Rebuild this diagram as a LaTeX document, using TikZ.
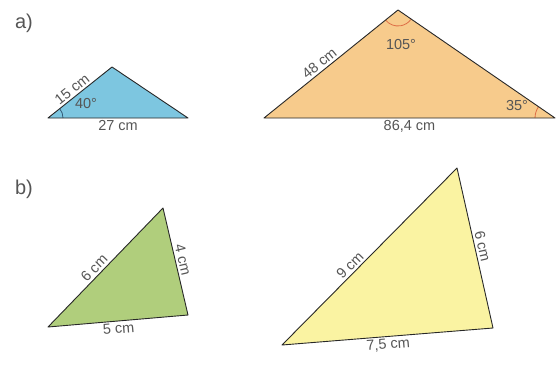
\documentclass[tikz,border=0pt]{standalone}
\usepackage{fontspec}
\setmainfont{Liberation Sans}
\usetikzlibrary{angles}
\definecolor{txtgray}{RGB}{85,85,85}
\definecolor{edgegray}{RGB}{40,40,40}
\definecolor{fillblue}{RGB}{125,198,224}
\definecolor{fillorange}{RGB}{247,203,140}
\definecolor{fillgreen}{RGB}{176,206,124}
\definecolor{fillyellow}{RGB}{250,243,162}
\definecolor{arcorange}{RGB}{222,110,70}
\definecolor{arcblue}{RGB}{45,80,110}
\tikzset{
  tri/.style={draw=edgegray, line width=0.9pt, line join=round},
  lbl/.style={text=txtgray, font=\fontsize{14.5}{17}\selectfont, inner sep=2.5pt},
  part/.style={text=txtgray, font=\fontsize{20}{24}\selectfont},
}
\begin{document}
\begin{tikzpicture}[x=1pt,y=-1pt]
\useasboundingbox (0,0) rectangle (556,367);

\node[part] (pa) at (24,23) {a)};
\node[part] (pb) at (24,189) {b)};

% a) small triangle
\coordinate (a1l) at (48,118);
\coordinate (a1t) at (112,67);
\coordinate (a1r) at (188,118);
\fill[fillblue] (a1l) -- (a1t) -- (a1r) -- cycle;
\pic[draw=arcblue, line width=0.7pt, angle radius=15pt] {angle = a1r--a1l--a1t};
\draw[tri] (a1l) -- (a1t) -- (a1r) -- cycle;
\path (a1l) -- node[lbl, sloped, above, pos=0.45] (a1s) {15 cm} (a1t);
\path (a1l) -- node[lbl, below] (a1b) {27 cm} (a1r);
\node[lbl] (a1w) at (86,104) {40°};

% a) large triangle
\coordinate (a2l) at (264,118);
\coordinate (a2t) at (398,10);
\coordinate (a2r) at (555,118);
\fill[fillorange] (a2l) -- (a2t) -- (a2r) -- cycle;
\pic[draw=arcorange, line width=0.8pt, angle radius=16pt] {angle = a2l--a2t--a2r};
\pic[draw=arcorange, line width=0.8pt, angle radius=20pt] {angle = a2t--a2r--a2l};
\draw[tri] (a2l) -- (a2t) -- (a2r) -- cycle;
\path (a2l) -- node[lbl, sloped, above, pos=0.45] (a2s) {48 cm} (a2t);
\path (a2l) -- node[lbl, below] (a2b) {86,4 cm} (a2r);
\node[lbl] (a2w) at (401,45) {105°};
\node[lbl] (a2v) at (517,106) {35°};

% b) small triangle
\coordinate (b1l) at (48,327);
\coordinate (b1t) at (163,208);
\coordinate (b1r) at (188,315);
\fill[fillgreen] (b1l) -- (b1t) -- (b1r) -- cycle;
\draw[tri] (b1l) -- (b1t) -- (b1r) -- cycle;
\path (b1l) -- node[lbl, sloped, above, pos=0.45] (b1s) {6 cm} (b1t);
\path (b1t) -- node[lbl, sloped, above] (b1e) {4 cm} (b1r);
\path (b1l) -- node[lbl, sloped, below] (b1b) {5 cm} (b1r);

% b) large triangle
\coordinate (b2l) at (282,345);
\coordinate (b2t) at (457,168);
\coordinate (b2r) at (493,328);
\fill[fillyellow] (b2l) -- (b2t) -- (b2r) -- cycle;
\draw[tri] (b2l) -- (b2t) -- (b2r) -- cycle;
\path (b2l) -- node[lbl, sloped, above, pos=0.42] (b2s) {9 cm} (b2t);
\path (b2t) -- node[lbl, sloped, above] (b2e) {6 cm} (b2r);
\path (b2l) -- node[lbl, sloped, below] (b2b) {7,5 cm} (b2r);
\end{tikzpicture}
\end{document}
